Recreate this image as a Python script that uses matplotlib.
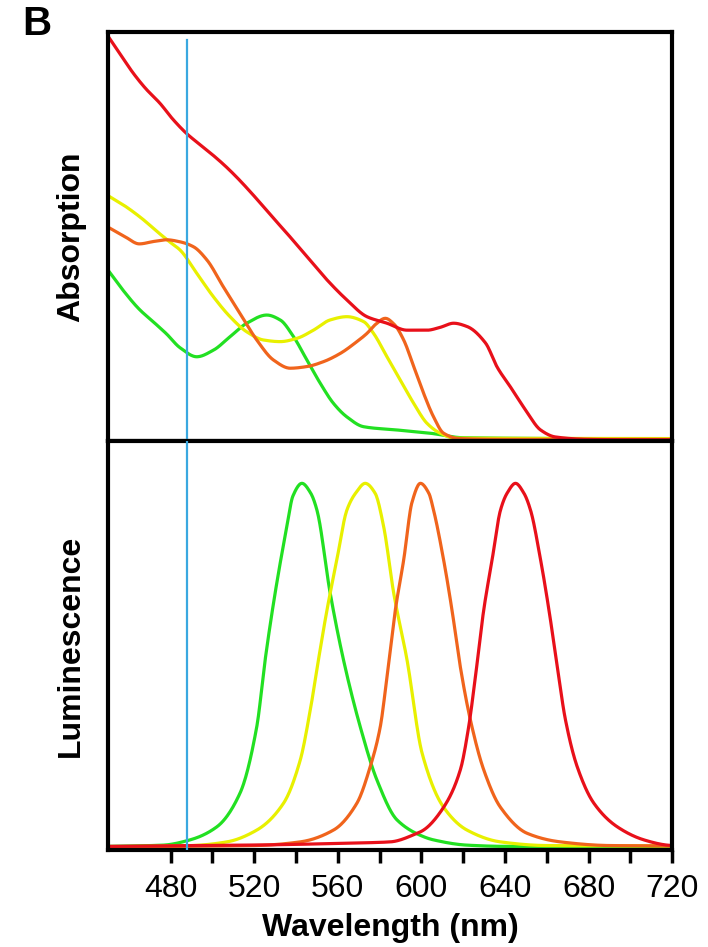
import matplotlib
matplotlib.use("Agg")
import matplotlib.pyplot as plt
from matplotlib.ticker import MultipleLocator
import numpy as np

plt.rcParams['font.family'] = ['Liberation Sans', 'DejaVu Sans']

# ---------------- data ----------------
excitation_nm = 488

# Absorption spectra (arbitrary units)
abs_red_nm = [450, 456, 462, 468, 475, 481, 488, 494, 500, 506, 511.6, 518, 524.4, 530,
              535.6, 545.2, 554.8, 564.3, 573.9, 583.5, 593.1, 602.7, 609, 615.4, 621.8,
              630.6, 636.3, 642.6, 649.8, 657, 664, 680, 700, 720]
abs_red = [0.99, 0.945, 0.90, 0.862, 0.825, 0.787, 0.75, 0.725, 0.70, 0.673, 0.645, 0.61, 0.573,
           0.54, 0.508, 0.451, 0.394, 0.345, 0.304, 0.288, 0.271, 0.271, 0.278, 0.288, 0.28,
           0.24, 0.18, 0.132, 0.076, 0.027, 0.01, 0.004, 0.003, 0.003]

abs_orange_nm = [450, 458, 465, 472, 478, 484.5, 490.9, 497.3, 505.2, 513.2, 521.2, 529.2,
                 537.2, 545.2, 553.1, 561.1, 569.1, 573.9, 578, 582.7, 587, 591.5, 596.3,
                 601, 605.8, 610.6, 618, 640, 720]
abs_orange = [0.523, 0.50, 0.482, 0.488, 0.492, 0.487, 0.475, 0.443, 0.377, 0.312, 0.247, 0.198,
              0.178, 0.182, 0.194, 0.214, 0.243, 0.263, 0.285, 0.30, 0.285, 0.247, 0.182,
              0.117, 0.059, 0.019, 0.006, 0.004, 0.004]

abs_yellow_nm = [450, 458, 466, 474, 480, 484.5, 492.5, 500.4, 508.4, 516.4, 524.4, 532.4,
                 540.4, 548.3, 556.3, 564.3, 572.3, 577.1, 583.5, 589.9, 596.3, 602.7, 609,
                 616, 720]
abs_yellow = [0.60, 0.575, 0.545, 0.51, 0.485, 0.467, 0.41, 0.353, 0.304, 0.267, 0.247, 0.243,
              0.251, 0.271, 0.296, 0.304, 0.292, 0.263, 0.206, 0.149, 0.092, 0.043, 0.019,
              0.007, 0.006]

abs_green_nm = [450, 457, 465, 472, 478, 484.5, 492.5, 500.4, 508.4, 516.4, 526, 532.4, 538.8,
                545.2, 551.6, 557.9, 564.3, 572.3, 588.3, 604.3, 620, 720]
abs_green = [0.418, 0.37, 0.322, 0.29, 0.262, 0.228, 0.206, 0.222, 0.255, 0.288, 0.308, 0.296,
             0.255, 0.198, 0.141, 0.092, 0.059, 0.035, 0.027, 0.019, 0.008, 0.005]

# Luminescence spectra (arbitrary units)
lum_green_nm = [450, 476.3, 489.3, 502.1, 513.2, 521.2, 525.2, 530, 535.6, 538.5, 542.8, 547,
                550, 556.3, 562.7, 570.7, 578.7, 588.3, 600.9, 605.7, 621.8, 640, 720]
lum_green = [0.004, 0.007, 0.02, 0.052, 0.135, 0.298, 0.462, 0.627, 0.79, 0.865, 0.896, 0.872,
             0.83, 0.627, 0.462, 0.298, 0.167, 0.069, 0.028, 0.02, 0.007, 0.004, 0.004]

lum_yellow_nm = [450, 490, 506.9, 521.2, 534, 542, 546.8, 550.7, 554.8, 559.5, 564.3, 568.5,
                 573.1, 577.8, 581.9, 586.7, 593.1, 600.3, 610.6, 621.8, 637.8, 660, 720]
lum_yellow = [0.003, 0.006, 0.015, 0.044, 0.11, 0.216, 0.339, 0.462, 0.585, 0.708, 0.83, 0.872,
              0.896, 0.872, 0.79, 0.627, 0.462, 0.233, 0.10, 0.044, 0.015, 0.006, 0.005]

lum_orange_nm = [450, 520, 542, 557.9, 569.1, 575.5, 580.3, 583.5, 587.5, 591.5, 595.5, 599.5,
                 603.5, 605.8, 610.6, 614.6, 618.6, 623.4, 629.8, 637.8, 650.6, 666.5, 690, 720]
lum_orange = [0.003, 0.006, 0.015, 0.044, 0.11, 0.2, 0.298, 0.42, 0.585, 0.708, 0.85, 0.896,
              0.872, 0.83, 0.708, 0.585, 0.445, 0.315, 0.192, 0.10, 0.036, 0.015, 0.006, 0.005]

lum_red_nm = [450, 518, 566, 585, 597.9, 601, 610.6, 618.6, 622.6, 625.8, 629.8, 633.8, 637.8,
              641, 645, 649, 652.2, 657, 661, 665, 668.9, 674.5, 682.5, 693.7, 706.4, 717.6, 720]
lum_red = [0.004, 0.007, 0.012, 0.015, 0.036, 0.044, 0.10, 0.192, 0.298, 0.42, 0.585, 0.708,
           0.83, 0.872, 0.896, 0.872, 0.83, 0.708, 0.585, 0.445, 0.315, 0.2, 0.11, 0.052, 0.02,
           0.007, 0.006]

x_ticks_major = [480, 520, 560, 600, 640, 680, 720]

# ---------------- styles ----------------
C_GREEN = '#22e022'
C_YELLOW = '#e8f000'
C_ORANGE = '#f0641c'
C_RED = '#e8101a'
C_BLUE = '#3aa8e0'
LW = 2.3


def smooth(xs, ys, n=800):
    """Monotone cubic (PCHIP) curve through the read points."""
    xs = np.asarray(xs, float)
    ys = np.asarray(ys, float)
    xx = np.linspace(xs[0], xs[-1], n)
    h = np.diff(xs)
    d = np.diff(ys) / h
    m = np.zeros_like(ys)
    for k in range(1, len(xs) - 1):
        if d[k - 1] * d[k] > 0:
            w1 = 2 * h[k] + h[k - 1]
            w2 = h[k] + 2 * h[k - 1]
            m[k] = (w1 + w2) / (w1 / d[k - 1] + w2 / d[k])
    m[0] = d[0]
    m[-1] = d[-1]
    idx = np.clip(np.searchsorted(xs, xx) - 1, 0, len(xs) - 2)
    t = (xx - xs[idx]) / h[idx]
    h00 = 2 * t**3 - 3 * t**2 + 1
    h10 = t**3 - 2 * t**2 + t
    h01 = -2 * t**3 + 3 * t**2
    h11 = t**3 - t**2
    yy = h00 * ys[idx] + h10 * h[idx] * m[idx] + h01 * ys[idx + 1] + h11 * h[idx] * m[idx + 1]
    return xx, yy


fig = plt.figure(figsize=(7.08, 9.47), dpi=100)
left, width = 0.1525, 0.797
ax_top = fig.add_axes([left, 0.5343, width, 0.4319])
ax_bot = fig.add_axes([left, 0.1024, width, 0.4319], sharex=ax_top)

for ax in (ax_top, ax_bot):
    for s in ax.spines.values():
        s.set_linewidth(3.0)
        s.set_color('black')
    ax.set_yticks([])
    ax.set_xlim(450, 720)

ax_top.set_ylim(0, 1.0)
ax_bot.set_ylim(-0.005, 1.0)

# absorption
for xs, ys, c in [(abs_green_nm, abs_green, C_GREEN), (abs_yellow_nm, abs_yellow, C_YELLOW),
                  (abs_orange_nm, abs_orange, C_ORANGE), (abs_red_nm, abs_red, C_RED)]:
    xx, yy = smooth(xs, ys)
    ax_top.plot(xx, yy, color=c, lw=LW, solid_capstyle='round')

# luminescence
for xs, ys, c in [(lum_green_nm, lum_green, C_GREEN), (lum_yellow_nm, lum_yellow, C_YELLOW),
                  (lum_orange_nm, lum_orange, C_ORANGE), (lum_red_nm, lum_red, C_RED)]:
    xx, yy = smooth(xs, ys)
    ax_bot.plot(xx, yy, color=c, lw=LW, solid_capstyle='round')

ax_top.axvline(excitation_nm, ymin=0, ymax=0.98, color=C_BLUE, lw=1.6, zorder=5)
ax_bot.axvline(excitation_nm, color=C_BLUE, lw=1.6, zorder=5)

ax_top.tick_params(axis='x', which='both', length=0, labelbottom=False)
ax_bot.set_xticks(x_ticks_major)
ax_bot.xaxis.set_minor_locator(MultipleLocator(20))
ax_bot.tick_params(axis='x', which='both', direction='out', length=9, width=2.5,
                   labelsize=23, pad=8)
ax_bot.tick_params(axis='x', which='minor', labelbottom=False)
ax_bot.set_xlim(450, 720)
for tk, loc in zip(ax_bot.xaxis.get_minor_ticks(), ax_bot.xaxis.get_minorticklocs()):
    if loc < 475:
        tk.tick1line.set_visible(False)

ax_bot.set_xlabel('Wavelength (nm)', fontsize=23, fontweight='bold', labelpad=7)
ax_top.set_ylabel('Absorption', fontsize=23, fontweight='bold', labelpad=16)
ax_bot.set_ylabel('Luminescence', fontsize=23, fontweight='bold', labelpad=16)
fig.align_ylabels([ax_top, ax_bot])

fig.text(0.032, 0.975, 'B', fontsize=29, fontweight='bold', ha='left', va='center')

fig.savefig('out.png', dpi=100)
